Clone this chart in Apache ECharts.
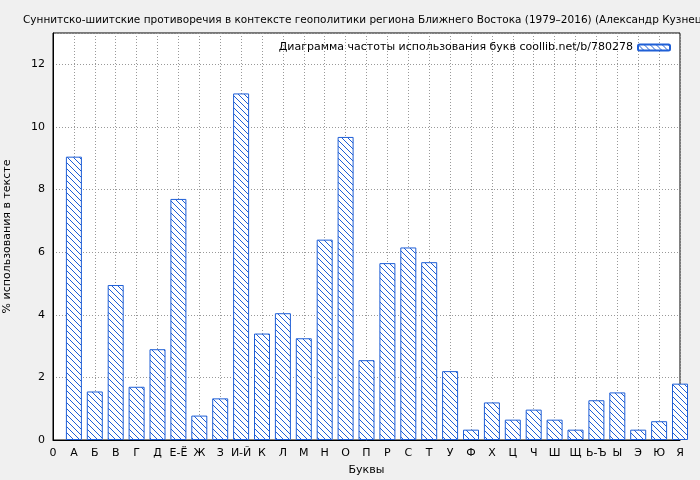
<!DOCTYPE html>
<html><head><meta charset="utf-8">
<script src="https://cdn.jsdelivr.net/npm/echarts@6/dist/echarts.min.js"></script>
<style>body{margin:0;background:#f0f0f0}#c{width:700px;height:480px}</style>
</head><body><div id="c"></div>
<script>
const categories = ["0","А","Б","В","Г","Д","Е-Ё","Ж","З","И-Й","К","Л","М","Н","О","П","Р","С","Т","У","Ф","Х","Ц","Ч","Ш","Щ","Ь-Ъ","Ы","Э","Ю","Я"];
const values = [null,9.05,1.55,4.95,1.7,2.9,7.7,0.78,1.33,11.07,3.4,4.05,3.25,6.4,9.68,2.55,5.65,6.15,5.68,2.2,0.33,1.2,0.65,0.97,0.65,0.33,1.27,1.52,0.33,0.6,1.8];
const blue = '#1f5fd6';
const cv = document.createElement('canvas'); cv.width = 6; cv.height = 6;
const g = cv.getContext('2d');
g.fillStyle = '#fff'; g.fillRect(0,0,6,6);
g.strokeStyle = blue; g.lineWidth = 1;
g.beginPath(); g.moveTo(-1,-1); g.lineTo(7,7); g.moveTo(-1,5); g.lineTo(1,7); g.moveTo(5,-1); g.lineTo(7,1); g.stroke();
const pat = {image: cv, repeat: 'repeat'};
const chart = echarts.init(document.getElementById('c'));
chart.setOption({
  backgroundColor: '#f0f0f0',
  animation: false,
  title: {text: 'Суннитско-шиитские противоречия в контексте геополитики региона Ближнего Востока (1979–2016) (Александр Кузнецов)', left: 18, top: 10, textStyle: {fontSize: 10.5, fontWeight: 'normal', color: '#000', fontFamily: 'DejaVu Sans'}},
  legend: {right: 24, top: 37, align: 'right', itemWidth: 32, itemHeight: 6, itemGap: 6, textStyle: {fontSize: 11, color: '#000', fontFamily: 'DejaVu Sans'}, data: ['Диаграмма частоты использования букв coollib.net/b/780278']},
  grid: {left: 53, right: 20, top: 33, bottom: 40, outerBoundsMode: 'none', containLabel: false, show: true, backgroundColor: '#fff', borderColor: '#000', borderWidth: 1},
  xAxis: {type: 'category', data: categories, boundaryGap: false, name: 'Буквы', nameLocation: 'middle', nameGap: 25,
    nameTextStyle: {fontSize: 11, color: '#000', fontFamily: 'DejaVu Sans'},
    axisLine: {lineStyle: {color: '#000'}}, axisTick: {show: false},
    axisLabel: {interval: 0, color: '#000', fontSize: 11, fontFamily: 'DejaVu Sans', margin: 8},
    splitLine: {show: true, interval: 0, lineStyle: {color: '#999', type: [1,2]}}},
  yAxis: {type: 'value', min: 0, max: 13, interval: 2, name: '% использования в тексте', nameLocation: 'middle', nameGap: 40,
    nameTextStyle: {fontSize: 11, color: '#000', fontFamily: 'DejaVu Sans'},
    axisLine: {show: true, lineStyle: {color: '#000'}}, axisTick: {show: false},
    axisLabel: {color: '#000', fontSize: 11, fontFamily: 'DejaVu Sans', showMaxLabel: false},
    splitLine: {show: true, lineStyle: {color: '#999', type: [1,2]}}},
  series: [{name: 'Диаграмма частоты использования букв coollib.net/b/780278', type: 'bar', data: values, barWidth: 16, clip: true,
    itemStyle: {color: pat, borderColor: blue, borderWidth: 1}}]
});
</script></body></html>
